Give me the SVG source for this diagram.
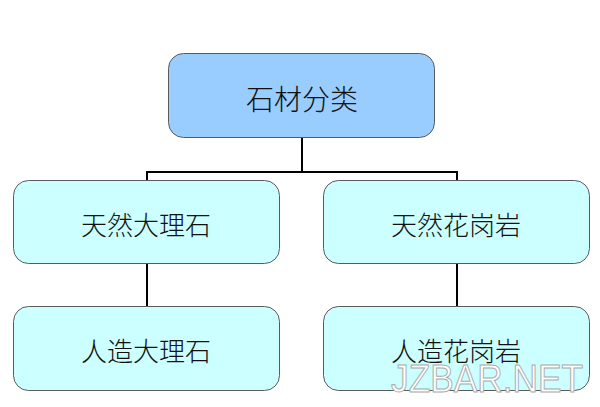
<svg xmlns="http://www.w3.org/2000/svg" width="600" height="407" viewBox="0 0 600 407">
<style>
.box{stroke:#5a5a5a;stroke-width:1;}
.top{fill:#99CCFF;}
.sub{fill:#CCFFFF;}
.lbl{font-family:"Noto Sans CJK SC","Noto Sans CJK JP",sans-serif;font-weight:300;fill:#111;text-anchor:middle;dominant-baseline:central;}
.conn{stroke:#000;stroke-width:2;fill:none;}
.wm{font-family:"Liberation Sans",Arial,sans-serif;font-size:38px;fill:#fff;stroke:#aaaaaa;stroke-width:1;}
</style>
<rect width="600" height="407" fill="#fff"/>
<g id="connectors">
<path class="conn" d="M302 138V172M147 172H457M147 171V180M457 171V180M147 264V306M457 264V306"/>
</g>
<g id="n-root">
<rect class="box top" x="168.5" y="53.5" width="266" height="84" rx="15"/>
<text class="lbl" x="302" y="98" font-size="28">石材分类</text>
</g>
<g id="n-natural-marble">
<rect class="box sub" x="13.5" y="180.5" width="266" height="83" rx="15"/>
<text class="lbl" x="146" y="223" font-size="26">天然大理石</text>
</g>
<g id="n-natural-granite">
<rect class="box sub" x="323.5" y="180.5" width="266" height="83" rx="15"/>
<text class="lbl" x="456" y="223" font-size="26">天然花岗岩</text>
</g>
<g id="n-artificial-marble">
<rect class="box sub" x="13.5" y="306.5" width="266" height="84" rx="15"/>
<text class="lbl" x="146" y="349" font-size="26">人造大理石</text>
</g>
<g id="n-artificial-granite">
<rect class="box sub" x="323.5" y="306.5" width="266" height="84" rx="15"/>
<text class="lbl" x="456" y="349" font-size="26">人造花岗岩</text>
</g>
<text class="wm" x="391" y="392" textLength="192" lengthAdjust="spacingAndGlyphs">JZBAR.NET</text>
</svg>
